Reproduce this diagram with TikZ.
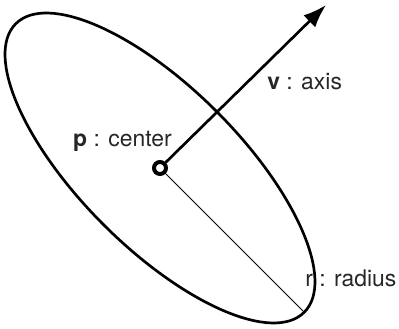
\documentclass[tikz,border=0pt]{standalone}
\usepackage{fontspec}
\setmainfont{TeX Gyre Heros}
\usepackage{xcolor}
\usepackage{tikz}
\usetikzlibrary{arrows.meta,positioning}

\begin{document}
\begin{tikzpicture}[
  font=\fontsize{16.3}{19}\selectfont,
  % Outline of the ellipse
  outline/.style={draw, line width=1.9pt},
  % Hollow centre point
  ring/.style={circle, draw, line width=2.8pt, fill=white,
               inner sep=0pt, minimum size=0.3cm},
  % Text label (no box)
  lbl/.style={inner sep=0pt, text=black!85},
  arr/.style={-{Latex[length=5.8mm,width=4.2mm]}, line width=1.9pt},
  thin/.style={line width=0.6pt}
]
\useasboundingbox (0,0) rectangle (9.975,8.225);

% ── Ellipse round the centre ───────────────────────────────────────────────
\coordinate (c) at (4.0,4.025);
\draw[outline] (c) ellipse[x radius=5.1cm, y radius=2.0cm, rotate=-45];

% ── Centre, axis and radius ────────────────────────────────────────────────
\coordinate (vtip) at (8.15,8.1);
\coordinate (rend) at (7.606,0.419);

\draw[thin] (c) -- (rend);
\node[ring] (p) at (c) {};
\draw[arr]  (p) -- (vtip);

% ── Labels ────────────────────────────────────────────────────────────────
\node[lbl, anchor=base east] (plbl) at (4.3,4.55)   {\textbf{p} : center};
\node[lbl, anchor=base west] (vlbl) at (6.675,5.975) {\textbf{v} : axis};
\node[lbl, anchor=base west] (rlbl) at (7.625,1.05)  {r : radius};

\end{tikzpicture}
\end{document}
